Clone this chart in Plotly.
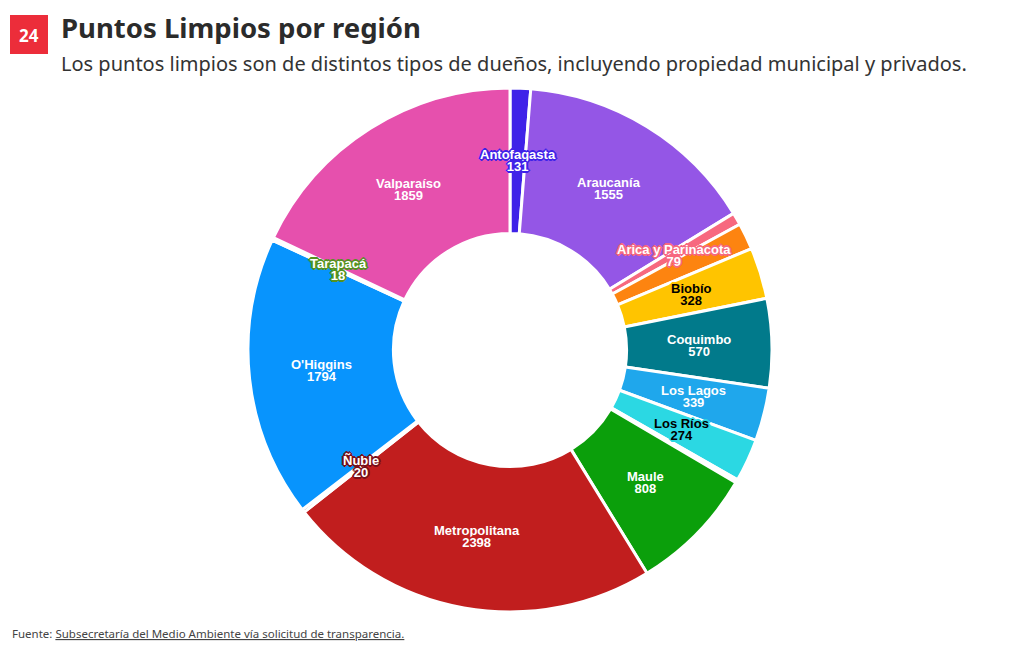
import math
import plotly.graph_objects as go

# Data: puntos limpios by region (clockwise from 12 o'clock, alphabetical)
regions = ["Antofagasta", "Araucanía", "Arica y Parinacota", "Atacama", "Biobío",
           "Coquimbo", "Los Lagos", "Los Ríos", "Magallanes", "Maule",
           "Metropolitana", "Ñuble", "O'Higgins", "Tarapacá", "Valparaíso"]
counts = [131, 1555, 79, 170, 328, 570, 339, 274, 20, 808, 2398, 20, 1794, 18, 1859]
show_label = [True, True, True, False, True, True, True, True, False, True,
              True, True, True, True, True]

colors = ["#3f22e8", "#9456e6", "#f7687f", "#fd8410", "#ffc400",
          "#017a8b", "#1fa7ec", "#2bd8e3", "#9be69a", "#0b9f0b",
          "#c11e1e", "#6b0d14", "#0894fd", "#7fb24a", "#e650ad"]
outline = ["#3f22e8", "#9456e6", "#f7687f", "#fd8410", "#ffc400",
           "#017a8b", "#1fa7ec", "#2bd8e3", "#9be69a", "#0b9f0b",
           "#c11e1e", "#7a0f18", "#0894fd", "#55921f", "#e650ad"]
dark_text = ["Biobío", "Los Ríos"]

HOLE = 0.445


def halo(c):
    # outline effect around label text
    return (f"-1px -1px 0 {c}, 1px -1px 0 {c}, -1px 1px 0 {c}, 1px 1px 0 {c}, "
            f"0 -2px 0 {c}, 0 2px 0 {c}, -2px 0 0 {c}, 2px 0 0 {c}")


fig = go.Figure()

# empty trace so the hidden x/y axes exist for the label annotations
fig.add_trace(go.Scatter(x=[], y=[], showlegend=False, hoverinfo="skip"))

fig.add_trace(go.Pie(
    labels=regions,
    values=counts,
    sort=False,
    direction="clockwise",
    rotation=0,
    hole=HOLE,
    marker=dict(colors=colors, line=dict(color="white", width=3)),
    textinfo="none",
    showlegend=False,
))

# labels at mid-radius of each slice (angle from cumulative values)
total = sum(counts)
r_mid = (1 + HOLE) / 2
cum = 0
for name, v, show, oc in zip(regions, counts, show_label, outline):
    ang = math.radians((cum + v / 2) / total * 360)
    cum += v
    if not show:
        continue
    col = "black" if name in dark_text else "white"
    txt = (f"<span style='font-size:13px'>{name}</span><br>"
           f"<span style='font-size:13px'>{v}</span>")
    fig.add_annotation(x=r_mid * math.sin(ang), y=r_mid * math.cos(ang),
                       xref="x", yref="y", text=txt, showarrow=False,
                       xanchor="center", yanchor="middle",
                       font=dict(family="Liberation Sans", size=9.5, weight="bold",
                                 color=col, shadow=halo(oc)))

fig.update_layout(
    width=1012, height=642,
    margin=dict(l=0, r=8, t=80, b=38),
    paper_bgcolor="white",
    plot_bgcolor="rgba(0,0,0,0)",
    font=dict(family="Noto Sans", color="#333333"),
    xaxis=dict(range=[-1, 1], visible=False, scaleanchor="y", constrain="domain"),
    yaxis=dict(range=[-1, 1], visible=False),
)


# page pixel -> paper helpers (plot area spans page pixels x 8..1012, y 88..612)
def py(p):
    return (612 - p) / 524


def px(p):
    return (p - 8) / 1004


# logo square
fig.add_shape(type="rect", xref="paper", yref="paper",
              x0=px(10), x1=px(48), y0=py(54), y1=py(15),
              fillcolor="#ec2d3a", line=dict(width=0))
fig.add_annotation(text="<b>24</b>", xref="paper", yref="paper",
                   x=px(29), y=py(35), xanchor="center", yanchor="middle",
                   showarrow=False,
                   font=dict(family="Noto Sans", size=17, color="white"))

fig.add_annotation(text="<b>Puntos Limpios por región</b>", xref="paper", yref="paper",
                   x=px(59), y=py(28), xanchor="left", yanchor="middle",
                   showarrow=False, font=dict(family="Noto Sans", size=27.5, color="#2b2b2b"))
fig.add_annotation(text="Los puntos limpios son de distintos tipos de dueños, incluyendo propiedad municipal y privados.",
                   xref="paper", yref="paper",
                   x=px(59), y=py(63), xanchor="left", yanchor="middle",
                   showarrow=False, font=dict(family="Noto Sans", size=20, color="#333333"))
fig.add_annotation(text="Fuente: <u>Subsecretaría del Medio Ambiente vía solicitud de transparencia.</u>",
                   xref="paper", yref="paper",
                   x=px(10), y=py(633), xanchor="left", yanchor="middle",
                   showarrow=False, font=dict(family="Noto Sans", size=11.5, color="#444444"))

fig.write_html("out.html")
